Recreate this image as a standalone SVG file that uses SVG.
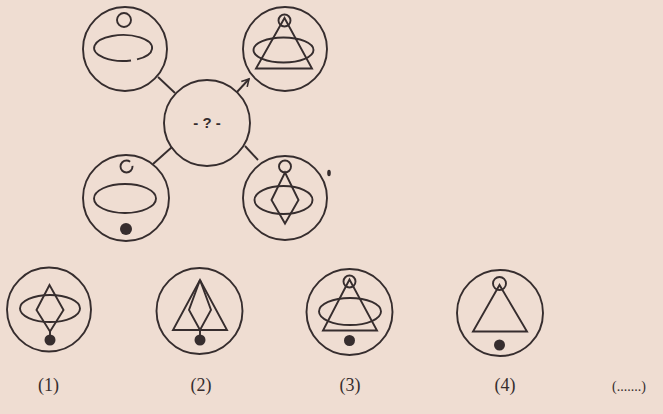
<svg xmlns="http://www.w3.org/2000/svg" width="663" height="414" viewBox="0 0 663 414">
<style>
.s{fill:none;stroke:#362d2e;stroke-width:1.9}
.d{fill:#362d2e;stroke:none}
.lb{font-family:"Liberation Serif",serif;font-size:18px;fill:#362d2e;text-anchor:middle}
</style>
<defs>
<marker id="arr" markerWidth="10" markerHeight="10" refX="8" refY="5" orient="auto" markerUnits="userSpaceOnUse">
<polyline points="1,1 8,5 1,9" fill="none" stroke="#362d2e" stroke-width="1.6"/>
</marker>
</defs>
<rect width="663" height="414" fill="#efddd2"/>
<g id="connectors" class="s">
<line x1="158" y1="77" x2="175" y2="93"/>
<line x1="237" y1="92" x2="249" y2="79" marker-end="url(#arr)"/>
<line x1="153" y1="164" x2="172" y2="147"/>
<line x1="245" y1="146" x2="258" y2="160"/>
</g>
<g id="center" class="s">
<circle cx="207" cy="123" r="43"/>
<text x="207" y="128" style="font-family:'Liberation Sans',sans-serif;font-size:15px;font-weight:bold;fill:#362d2e;stroke:none;text-anchor:middle">- ? -</text>
</g>
<g id="top-left" class="s">
<circle cx="125" cy="49" r="42"/>
<circle cx="124" cy="20" r="7"/>
<path d="M 131 60.5 A 29 13 0 1 1 137 59.4"/>
</g>
<g id="top-right" class="s">
<circle cx="285" cy="49" r="42"/>
<circle cx="284.5" cy="20.5" r="6"/>
<polygon points="284.5,18 256,68.5 312,68.5"/>
<ellipse cx="283.5" cy="50" rx="30" ry="12.5"/>
</g>
<g id="bottom-left" class="s">
<circle cx="126" cy="198" r="43"/>
<circle cx="126.5" cy="166.5" r="6" stroke-dasharray="31.4 4.7 1.6"/>
<ellipse cx="125" cy="198.5" rx="31" ry="14.5"/>
<circle class="d" cx="126" cy="229" r="6"/>
</g>
<g id="bottom-right" class="s">
<circle cx="285" cy="198" r="42"/>
<circle cx="285" cy="166.5" r="6"/>
<polygon points="285,172.5 271.5,200 285,223.5 298.5,200"/>
<ellipse cx="283.5" cy="200" rx="29" ry="14"/>
<ellipse class="d" cx="329" cy="173" rx="1.8" ry="3.2"/>
</g>
<g id="option1" class="s">
<circle cx="49" cy="309.5" r="42"/>
<polygon points="49.5,285 36.5,310 50,331.5 63.5,310"/>
<ellipse cx="50" cy="308.5" rx="30" ry="13.5"/>
<line x1="50" y1="331.5" x2="50" y2="338"/>
<circle class="d" cx="50" cy="340" r="5.5"/>
</g>
<g id="option2" class="s">
<circle cx="199.5" cy="311" r="43"/>
<polygon points="200,280 173,330 227,330"/>
<polyline points="200,280 189,310 200,330 211,310 200,280"/>
<line x1="200" y1="330" x2="200" y2="336"/>
<circle class="d" cx="200" cy="340" r="5.5"/>
</g>
<g id="option3" class="s">
<circle cx="349.5" cy="312" r="43"/>
<circle cx="349.5" cy="281.5" r="6"/>
<polygon points="349.5,279.5 323,330.5 377,330.5"/>
<ellipse cx="350" cy="311.5" rx="31" ry="13.5"/>
<circle class="d" cx="349.5" cy="340.5" r="5.5"/>
</g>
<g id="option4" class="s">
<circle cx="500" cy="313" r="43"/>
<circle cx="499.5" cy="283.5" r="6.5"/>
<polygon points="499.5,285 473,331.5 527,331.5"/>
<circle class="d" cx="499.5" cy="345" r="5.5"/>
</g>
<g id="labels">
<text class="lb" x="48.5" y="391">(1)</text>
<text class="lb" x="201" y="391">(2)</text>
<text class="lb" x="350" y="391">(3)</text>
<text class="lb" x="505" y="391">(4)</text>
<text class="lb" x="629" y="391" style="font-size:14px">(.......)</text>
</g>
</svg>
